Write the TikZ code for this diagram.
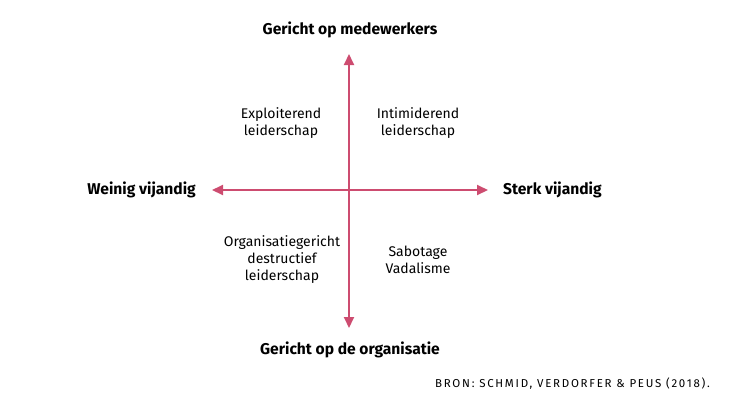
\documentclass[tikz,border=0pt]{standalone}
\usepackage{fontspec}
\setmainfont{Fira Sans}
\newfontfamily\srcfont[LetterSpace=15]{Fira Sans}
\usetikzlibrary{arrows.meta}
\definecolor{axis}{RGB}{205,76,112}
\begin{document}
\begin{tikzpicture}[x=1pt,y=-1pt,
  axisline/.style={draw=axis,line width=2pt,{Triangle[length=11pt,width=10pt]}-{Triangle[length=11pt,width=10pt]}},
  axlabel/.style={font=\fontsize{15.6}{18}\selectfont\bfseries,inner sep=0pt},
  quad/.style={font=\fontsize{14}{17}\selectfont,align=center,inner sep=0pt}]
\useasboundingbox (0,0) rectangle (737,408);
\coordinate (top) at (349,54);
\coordinate (bot) at (349,328);
\coordinate (lft) at (212,190);
\coordinate (rgt) at (488,190);
\draw[axisline] (bot) -- (top);
\draw[axisline] (lft) -- (rgt);
\node[axlabel] (n) at (350,30) {Gericht op medewerkers};
\node[axlabel] (s) at (350,350) {Gericht op de organisatie};
\node[axlabel,anchor=east] (w) at (196,190) {Weinig vijandig};
\node[axlabel,anchor=west] (e) at (503,190) {Sterk vijandig};
\node[quad] (q1) at (281,123) {Exploiterend\\leiderschap};
\node[quad] (q2) at (418,123) {Intimiderend\\leiderschap};
\node[quad] (q3) at (282,260) {Organisatiegericht\\destructief\\leiderschap};
\node[quad] (q4) at (418,260) {Sabotage\\Vadalisme};
\node[anchor=east,inner sep=0pt,font=\srcfont\fontsize{11.5}{12}\selectfont] (src) at (710,384) {BRON: SCHMID, VERDORFER \& PEUS (2018).};
\end{tikzpicture}
\end{document}
